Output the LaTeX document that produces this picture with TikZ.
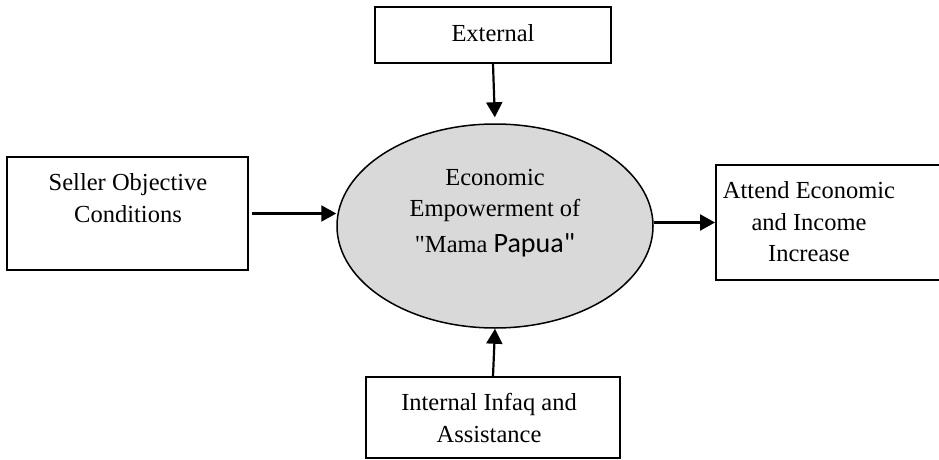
\documentclass[tikz,border=0pt]{standalone}
\usepackage{fontspec}
\setmainfont{Liberation Serif}
\newfontfamily\calibfont{Carlito}
\usetikzlibrary{shapes.geometric,arrows.meta}
% straight double quote glyph, bypassing the TeX ligature mapping
\newcommand\straightquote{\XeTeXglyph\XeTeXcharglyph"22\relax}
\begin{document}
\begin{tikzpicture}[x=1pt,y=-1pt,
  box/.style={draw,line width=1.9pt,rectangle,inner sep=0pt},
  txt/.style={align=center,inner sep=0pt,font=\fontsize{24.5}{31.5}\selectfont},
  flow/.style={line width=2.2pt,-{Triangle[length=15pt,width=16pt]}}]
\useasboundingbox (0,0) rectangle (939,460);
\clip (0,0) rectangle (939,460);

% outer boxes
\node[box,minimum width=236pt,minimum height=56pt] (ext) at (493,35) {};
\node[box,minimum width=241pt,minimum height=113pt] (seller) at (127.5,213.5) {};
\node[box,minimum width=240pt,minimum height=115pt] (attend) at (836,222.5) {};
\node[box,minimum width=254pt,minimum height=81pt] (internal) at (493,417.5) {};

% central ellipse
\node[ellipse,draw,line width=1.5pt,fill=black!15,minimum width=316pt,minimum height=204pt,inner sep=0pt] (emp) at (495,226) {};

% labels
\node[txt] (extT) at (493,33) {External};
\node[txt] (sellerT) at (128,198) {Seller Objective\\Conditions};
\node[txt] (attendT) at (809,222) {Attend Economic\\and Income\\Increase};
\node[txt] (internalT) at (489,418) {Internal Infaq and\\Assistance};
\node[txt] (empT) at (495,213) {Economic\\Empowerment of\\[4pt]\straightquote Mama {\calibfont\fontsize{28}{34}\selectfont Papua\straightquote}};

% connectors
\draw[flow,shorten >=6pt] (ext.south) -- (emp.north);
\draw[flow] ([xshift=3pt]seller.east) -- (seller.east -| emp.west);
\draw[flow] (attend.west -| emp.east) -- (attend.west);
\draw[flow] (internal.north) -- (emp.south);
\end{tikzpicture}
\end{document}
